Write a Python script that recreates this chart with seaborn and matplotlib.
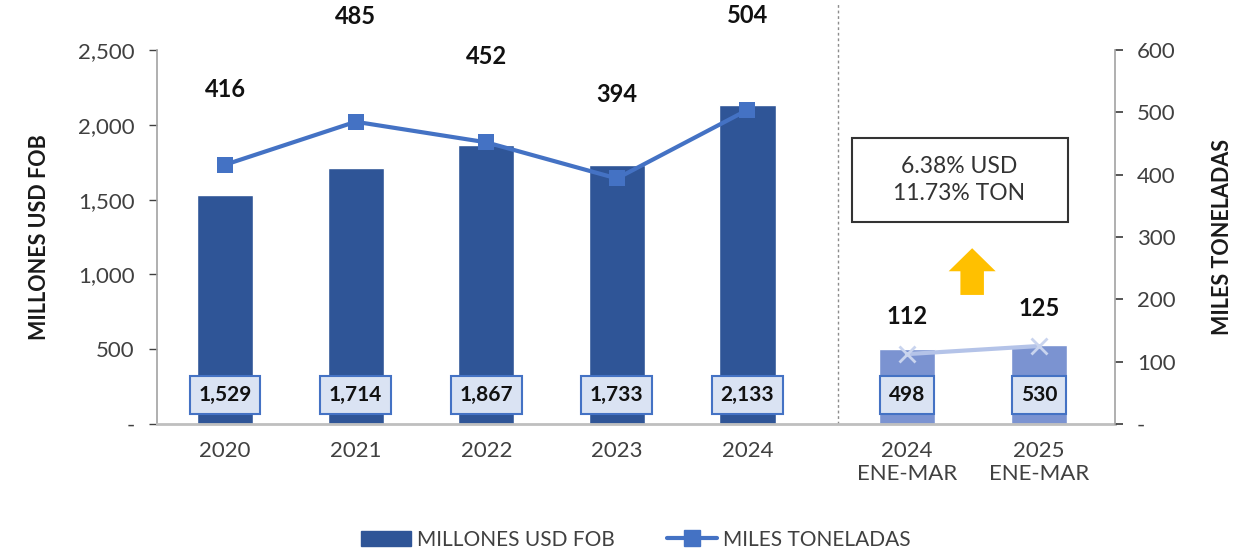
import pandas as pd
import seaborn as sns
import matplotlib.pyplot as plt
from matplotlib.patches import FancyArrow, Patch, Rectangle
from matplotlib.lines import Line2D

# data
categories = ["2020", "2021", "2022", "2023", "2024", "2024\nENE-MAR", "2025\nENE-MAR"]
usd_fob = [1529, 1714, 1867, 1733, 2133, 498, 530]
miles_ton = [416, 485, 452, 394, 504, 112, 125]
period = ["Anual"] * 5 + ["Parcial"] * 2

# layout only: x positions (Excel left a wider gap before the partial-year pair)
xpos = [0, 1, 2, 3, 4, 5.22, 6.23]
label_lift = [75, 105, 86, 84, 94, 38, 38]  # px above each ton point

df = pd.DataFrame({"cat": categories, "usd": usd_fob, "ton": miles_ton,
                   "period": period, "x": xpos})

sns.set_theme(style="white")
plt.rcParams["font.family"] = ["Lato", "DejaVu Sans"]

fig = plt.figure(figsize=(12.37, 5.57), dpi=100)
ax = fig.add_axes([0.127, 0.239, 0.774, 0.671])

dark, light = "#2F5597", "#7B93D1"
sns.barplot(data=df, x="x", y="usd", hue="period", palette=[dark, light],
            native_scale=True, width=0.43, dodge=False, legend=False,
            saturation=1, ax=ax)

ax.set_xlim(-0.52, 6.81)
ax.set_ylim(0, 2500)
ax.set_yticks([0, 500, 1000, 1500, 2000, 2500],
              ["-", "500", "1,000", "1,500", "2,000", "2,500"])
ax.set_xticks(xpos, categories)
ax.set_xlabel("")
ax.set_ylabel("MILLONES USD FOB", fontsize=15.5, fontweight="bold", color="#1a1a1a", labelpad=20)
ax.tick_params(axis="y", labelsize=16, colors="#404040", length=6, width=1, direction="out", left=True, pad=10)
ax.tick_params(axis="x", labelsize=16, colors="#404040", length=0, pad=12)
for s in ["top", "right"]:
    ax.spines[s].set_visible(False)
ax.spines["left"].set_color("#A6A6A6")
ax.spines["bottom"].set_color("#BFBFBF")
ax.spines["bottom"].set_linewidth(2)

# value boxes at the base of each bar
for x, v in zip(xpos, usd_fob):
    ax.text(x, 194, f"{v:,}", ha="center", va="center", fontsize=15, fontweight="bold",
            color="#111111",
            bbox=dict(boxstyle="square,pad=0.42", fc="#DAE3F3", ec="#4472C4", lw=1.5))

# divider between full years and Jan-Mar
ax.axvline(4.69, ymin=0, ymax=1.13, color="#8C8C8C", ls=(0, (2, 2)), lw=1, clip_on=False)

ax2 = ax.twinx()
full = df[df.period == "Anual"]
part = df[df.period == "Parcial"]
sns.lineplot(data=full, x="x", y="ton", color="#4472C4", lw=3, marker="s",
             markersize=11, markeredgewidth=0, ax=ax2, legend=False)
sns.lineplot(data=part, x="x", y="ton", color="#B4C3E8", lw=3, marker="x",
             markersize=11, markeredgewidth=2, markeredgecolor="#C9D4EE", ax=ax2, legend=False)
ax2.set_ylim(0, 600)
ax2.set_xlim(-0.52, 6.81)
ax2.set_yticks([0, 100, 200, 300, 400, 500, 600],
               ["-", "100", "200", "300", "400", "500", "600"])
ax2.set_ylabel("MILES TONELADAS", fontsize=15.5, fontweight="bold", color="#1a1a1a", labelpad=26)
ax2.tick_params(axis="y", labelsize=16, colors="#404040", length=6, right=True, direction="out", pad=10)
for s in ["top", "left", "bottom"]:
    ax2.spines[s].set_visible(False)
ax2.spines["right"].set_color("#A6A6A6")

for x, v, lift in zip(xpos, miles_ton, label_lift):
    ax2.annotate(f"{v}", (x, v), xytext=(0, lift * 0.72), textcoords="offset points",
                 ha="center", va="center", fontsize=17, fontweight="bold",
                 color="#111111", annotation_clip=False)

# growth note and arrow
ax2.add_patch(Rectangle((4.80, 324), 1.65, 135, fc="white", ec="#333333", lw=1.5))
ax2.text(5.62, 391, "6.38% USD\n11.73% TON", ha="center", va="center", fontsize=16.5,
         color="#333333", linespacing=1.35)
ax2.add_patch(FancyArrow(5.72, 207, 0, 75, width=0.18, head_width=0.36, head_length=37,
                         length_includes_head=True, color="#FFC000", lw=0))

# legend at the bottom
handles = [Patch(color=dark, label="MILLONES USD FOB"),
           Line2D([], [], color="#4472C4", lw=3, marker="s", markersize=11, label="MILES TONELADAS")]
ax2.legend(handles=handles, loc="center", bbox_to_anchor=(0.5, -0.31), ncol=2,
           frameon=False, fontsize=15, handlelength=2.4, columnspacing=2.5, handletextpad=0.3,
           labelcolor="#404040")

plt.savefig("out.png", dpi=100)
